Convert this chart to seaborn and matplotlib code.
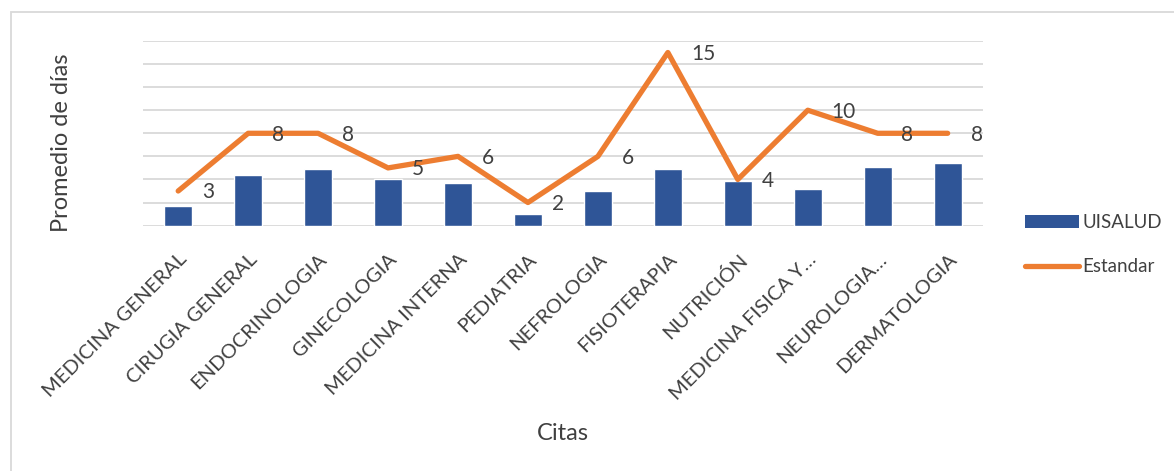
import matplotlib
matplotlib.use("Agg")
import matplotlib.pyplot as plt
import seaborn as sns
import pandas as pd
from matplotlib.patches import Patch, Rectangle
from matplotlib.lines import Line2D

# Data
citas = ['MEDICINA GENERAL', 'CIRUGIA GENERAL', 'ENDOCRINOLOGIA', 'GINECOLOGIA',
         'MEDICINA INTERNA', 'PEDIATRIA', 'NEFROLOGIA', 'FISIOTERAPIA', 'NUTRICIÓN',
         'MEDICINA FISICA Y…', 'NEUROLOGIA…', 'DERMATOLOGIA']
uisalud = [1.7, 4.4, 4.9, 4.0, 3.7, 1.0, 3.0, 4.9, 3.9, 3.2, 5.1, 5.4]
estandar = [3, 8, 8, 5, 6, 2, 6, 15, 4, 10, 8, 8]

df = pd.DataFrame({'cita': citas, 'UISALUD': uisalud, 'Estandar': estandar})

sns.set_style('white')
plt.rcParams['font.family'] = ['Lato', 'DejaVu Sans']

bar_color = '#2F5597'
line_color = '#ED7D31'
text_color = '#404040'

fig = plt.figure(figsize=(11.74, 4.71), dpi=100)
ax = fig.add_axes([0.122, 0.521, 0.715, 0.392])

sns.barplot(data=df, x='cita', y='UISALUD', color=bar_color, width=0.4,
            saturation=1, ax=ax, zorder=2)
ax.plot(range(len(citas)), df['Estandar'], color=line_color, lw=3.8,
        solid_capstyle='round', solid_joinstyle='round', zorder=3)

# Data labels to the right of each point
for i, v in enumerate(estandar):
    ax.annotate(str(v), (i, v), xytext=(17, -1), textcoords='offset points',
                ha='left', va='center', fontsize=15, color=text_color, zorder=4)

ax.set_ylim(0, 16)
ax.set_xlim(-0.5, len(citas) - 0.5)
ax.set_yticks(range(0, 17, 2))
ax.set_yticklabels([])
ax.tick_params(axis='y', length=0)
ax.tick_params(axis='x', length=0, pad=18)
ax.grid(axis='y', color='#D9D9D9', lw=1.3, zorder=0)
ax.set_axisbelow(True)
for s in ax.spines.values():
    s.set_visible(False)

ax.set_xticks(range(len(citas)))
ax.set_xticklabels(citas, rotation=45, ha='right', rotation_mode='anchor',
                   fontsize=14.5, color=text_color)
ax.set_xlabel('Citas', fontsize=17, color=text_color)
ax.xaxis.set_label_coords(0.5, -1.07)
ax.set_ylabel('Promedio de días', fontsize=17, color=text_color)
ax.yaxis.set_label_coords(-0.085, 0.45)

handles = [Patch(facecolor=bar_color, edgecolor='none'),
           Line2D([0], [0], color=line_color, lw=3.8, solid_capstyle='round')]
fig.legend(handles, ['UISALUD', 'Estandar'], loc='upper left',
           bbox_to_anchor=(1025 / 1174, 1 - 214 / 471), frameon=False,
           fontsize=13.5, labelcolor=text_color, handlelength=2.9,
           handletextpad=0.15, labelspacing=1.45, borderpad=0,
           borderaxespad=0)

# Chart area border
fig.patches.append(Rectangle((11 / 1174, -0.1), 1.2, 1.1 - 12 / 471,
                             transform=fig.transFigure, fill=False,
                             edgecolor='#D9D9D9', lw=1.3))

fig.savefig('out.png', dpi=100, facecolor='white')
